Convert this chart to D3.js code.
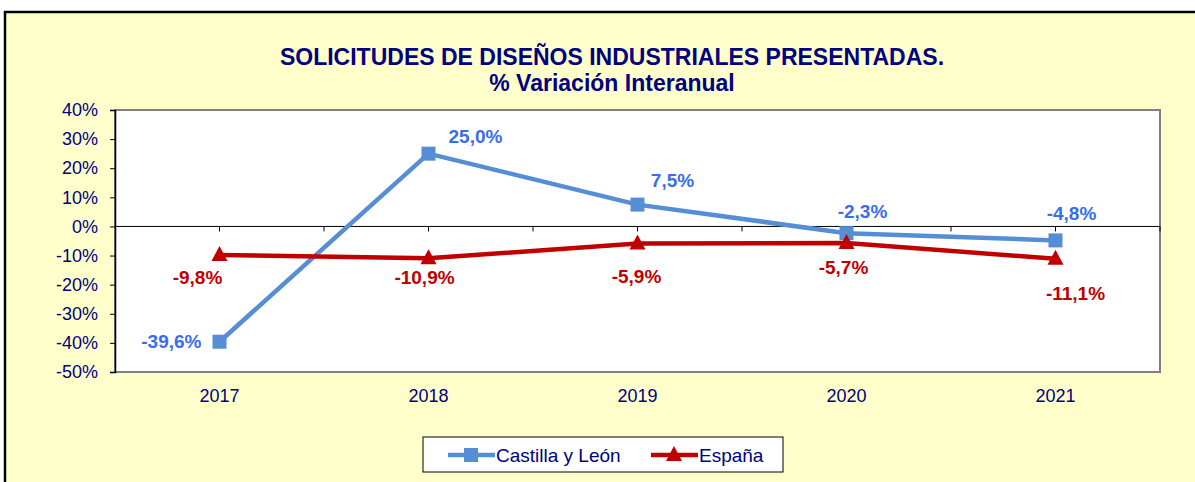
<!DOCTYPE html>
<meta charset="utf-8" />
<title>Solicitudes de diseños industriales</title>
<style>
  html, body { margin: 0; padding: 0; background: #fff; }
  svg { display: block; font-family: "Liberation Sans", Arial, sans-serif; }
  .axis text { fill: #000080; font-size: 18px; }
  .title { fill: #000080; font-weight: bold; font-size: 23px; }
  .lbl { font-weight: bold; font-size: 19px; }
</style>
<body>
<svg width="1195" height="482"></svg>
<script src="https://d3js.org/d3.v7.min.js"></script>
<script>
  const years = ["2017", "2018", "2019", "2020", "2021"];
  const castilla = [-39.6, 25.0, 7.5, -2.3, -4.8];
  const espana = [-9.8, -10.9, -5.9, -5.7, -11.1];
  const yTicks = [40, 30, 20, 10, 0, -10, -20, -30, -40, -50];

  // label offsets (dx, dy, anchor) relative to the point, as placed in the original
  const castillaOff = [[-18, 0, "end"], [20, -17, "start"], [35, -24, "middle"], [16, -22, "middle"], [16, -27, "middle"]];
  const espanaOff = [[-22, 22, "middle"], [-4, 19, "middle"], [-1, 33, "middle"], [-3, 24, "middle"], [20, 35, "middle"]];

  const svg = d3.select("svg");
  const fmt = v => (v.toFixed(1).replace(".", ",")) + "%";

  // chart area
  svg.append("rect").attr("x", 5).attr("y", 12).attr("width", 1200).attr("height", 480)
    .attr("fill", "#FFFFCC").attr("stroke", "#000").attr("stroke-width", 2.5);

  svg.append("text").attr("class", "title").attr("x", 612).attr("y", 65)
    .attr("text-anchor", "middle").text("SOLICITUDES DE DISEÑOS INDUSTRIALES PRESENTADAS.");
  svg.append("text").attr("class", "title").attr("x", 612).attr("y", 91)
    .attr("text-anchor", "middle").attr("font-size", 22).text("% Variación Interanual");

  const L = 115, R = 1160, T = 110, B = 372;
  const x = d3.scaleBand().domain(years).range([L, R]).padding(0);
  const y = d3.scaleLinear().domain([-50, 40]).range([B, T]);
  const cx = d => x(d) + x.bandwidth() / 2;

  // plot area
  svg.append("rect").attr("x", L).attr("y", T).attr("width", R - L).attr("height", B - T)
    .attr("fill", "#fff").attr("stroke", "#808080").attr("stroke-width", 2);

  // y axis
  const yAxis = svg.append("g").attr("class", "axis").attr("transform", `translate(${L},0)`)
    .call(d3.axisLeft(y).tickValues(yTicks).tickSize(5).tickPadding(12).tickFormat(d => d + "%"));
  yAxis.select(".domain").attr("stroke", "#000").attr("stroke-width", 1.5);
  yAxis.selectAll(".tick line").attr("stroke", "#000");

  // zero line with ticks at centers and boundaries
  svg.append("line").attr("x1", L).attr("x2", R).attr("y1", y(0)).attr("y2", y(0))
    .attr("stroke", "#000").attr("stroke-width", 1);
  const tickXs = years.map(cx).concat(years.slice(1).map(d => x(d))).concat([R]);
  svg.append("g").selectAll("line").data(tickXs).join("line")
    .attr("x1", d => d).attr("x2", d => d).attr("y1", y(0)).attr("y2", y(0) + 5)
    .attr("stroke", "#000");

  // year labels
  svg.append("g").attr("class", "axis").selectAll("text").data(years).join("text")
    .attr("x", cx).attr("y", 402).attr("text-anchor", "middle").text(d => d);

  const line = d3.line().x((d, i) => cx(years[i])).y(d => y(d));

  const series = [
    { name: "Castilla y León", vals: castilla, color: "#558ED5", text: "#3A6CF0", off: castillaOff, mark: "square" },
    { name: "España", vals: espana, color: "#C00000", text: "#C00000", off: espanaOff, mark: "triangle" }
  ];

  function marker(g, type, color) {
    if (type === "square") {
      g.append("rect").attr("x", -7).attr("y", -7).attr("width", 14).attr("height", 14).attr("fill", color);
    } else {
      g.append("path").attr("d", "M0,-9 L8,6 L-8,6 Z").attr("fill", color);
    }
  }

  series.forEach(s => {
    svg.append("path").datum(s.vals).attr("d", line).attr("fill", "none")
      .attr("stroke", s.color).attr("stroke-width", 4.5);
    s.vals.forEach((v, i) => {
      const g = svg.append("g").attr("transform", `translate(${cx(years[i])},${y(v)})`);
      marker(g, s.mark, s.color);
    });
  });

  series.forEach(s => {
    svg.append("g").selectAll("text").data(s.vals).join("text")
      .attr("class", "lbl").attr("fill", s.text)
      .attr("x", (d, i) => cx(years[i]) + s.off[i][0])
      .attr("y", (d, i) => y(d) + s.off[i][1])
      .attr("dy", "0.35em")
      .attr("text-anchor", (d, i) => s.off[i][2])
      .text(fmt);
  });

  // legend
  const lg = svg.append("g").attr("transform", "translate(423,437)");
  lg.append("rect").attr("width", 360).attr("height", 35).attr("fill", "#fff").attr("stroke", "#000");
  const items = [{ s: series[0], x: 25 }, { s: series[1], x: 228 }];
  items.forEach(it => {
    lg.append("line").attr("x1", it.x).attr("x2", it.x + 47).attr("y1", 18).attr("y2", 18)
      .attr("stroke", it.s.color).attr("stroke-width", 4.5);
    const m = lg.append("g").attr("transform", `translate(${it.x + 23},18)`);
    marker(m, it.s.mark, it.s.color);
    lg.append("text").attr("x", it.x + 48).attr("y", 18).attr("dy", "0.35em")
      .attr("fill", "#000080").attr("font-size", 19).text(it.s.name);
  });
</script>
</body>
